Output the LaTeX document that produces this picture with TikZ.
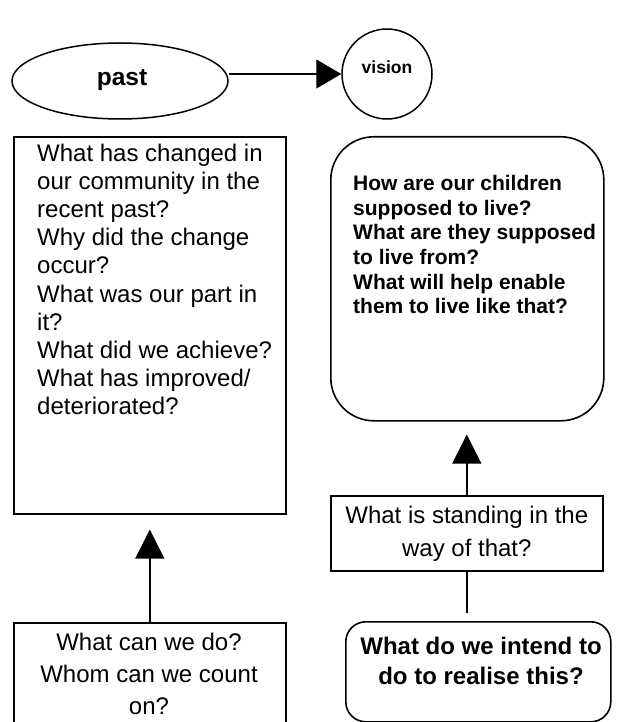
\documentclass[tikz,border=0pt]{standalone}
\usepackage{fontspec}
\setmainfont{Liberation Sans}
\usetikzlibrary{arrows.meta,shapes.geometric}
\tikzset{
  boxline/.style={draw=black, line width=1.6pt, inner sep=0pt, anchor=north west},
  txt/.style={inner sep=0pt, text=black},
  conn/.style={draw=black, line width=1.4pt},
  bigtip/.style={-{Triangle[length=29pt,width=29pt]}},
}
\begin{document}
\begin{tikzpicture}[x=1pt,y=-1pt]
\useasboundingbox (0,0) rectangle (620,722);
\clip (0,0) rectangle (620,722);
% top row
\node[draw, line width=1.5pt, ellipse, minimum width=216pt, minimum height=76pt, inner sep=0pt] (past) at (120,81) {};
\node[txt, font=\bfseries\fontsize{24.5}{28}\selectfont] (pasttxt) at (122,80) {past};
\node[draw, line width=1.5pt, ellipse, minimum width=90pt, minimum height=90pt, inner sep=0pt] (vision) at (387,74) {};
\node[txt, font=\bfseries\fontsize{17.5}{20}\selectfont] (visiontxt) at (387,67) {vision};
\draw[conn, -{Triangle[length=25pt,width=29pt]}] (past.east |- vision.west) -- (vision.west);
% left big box
\node[boxline, minimum width=272pt, minimum height=377pt] (lbox) at (13,136) {};
\node[txt, anchor=north west, align=left, font=\fontsize{24}{28.2}\selectfont] (ltxt) at (37,143.5)
 {What has changed in\\our community in the\\recent past?\\Why did the change\\occur?\\What was our part in\\it?\\What did we achieve?\\What has improved/\\deteriorated?};
% right rounded box
\node[boxline, rounded corners=43pt, minimum width=273pt, minimum height=284pt] (rbox) at (330,136) {};
\node[txt, anchor=north west, align=left, font=\bfseries\fontsize{21}{24.7}\selectfont] (rtxt) at (353,175)
 {How are our children\\supposed to live?\\What are they supposed\\to live from?\\What will help enable\\them to live like that?};
% standing box
\node[boxline, minimum width=272pt, minimum height=75pt] (sbox) at (330,495) {};
\node[txt, align=center, font=\fontsize{24}{33}\selectfont] (stxt) at (sbox.center)
 {What is standing in the\\way of that?};
% final rounded box
\node[boxline, rounded corners=20pt, minimum width=265pt, minimum height=100pt] (fbox) at (345,621) {};
\node[txt, anchor=north, align=center, font=\bfseries\fontsize{24}{30}\selectfont] (ftxt) at (481,636.5)
 {What do we intend to\\do to realise this?};
% bottom left box (runs off the page)
\node[boxline, minimum width=272pt, minimum height=140pt] (bbox) at (13,622) {};
\node[txt, anchor=north, align=center, font=\fontsize{24}{32}\selectfont] (btxt) at (149,633)
 {What can we do?\\Whom can we count\\on?};
% connectors
\draw[conn, bigtip, shorten >=15pt] (bbox.north) -- (lbox.south);
\draw[conn, bigtip, shorten >=13pt] (sbox.north) -- (sbox.north |- rbox.south);
\draw[conn, shorten >=8pt] (sbox.south) -- (sbox.south |- fbox.north);
\end{tikzpicture}
\end{document}
